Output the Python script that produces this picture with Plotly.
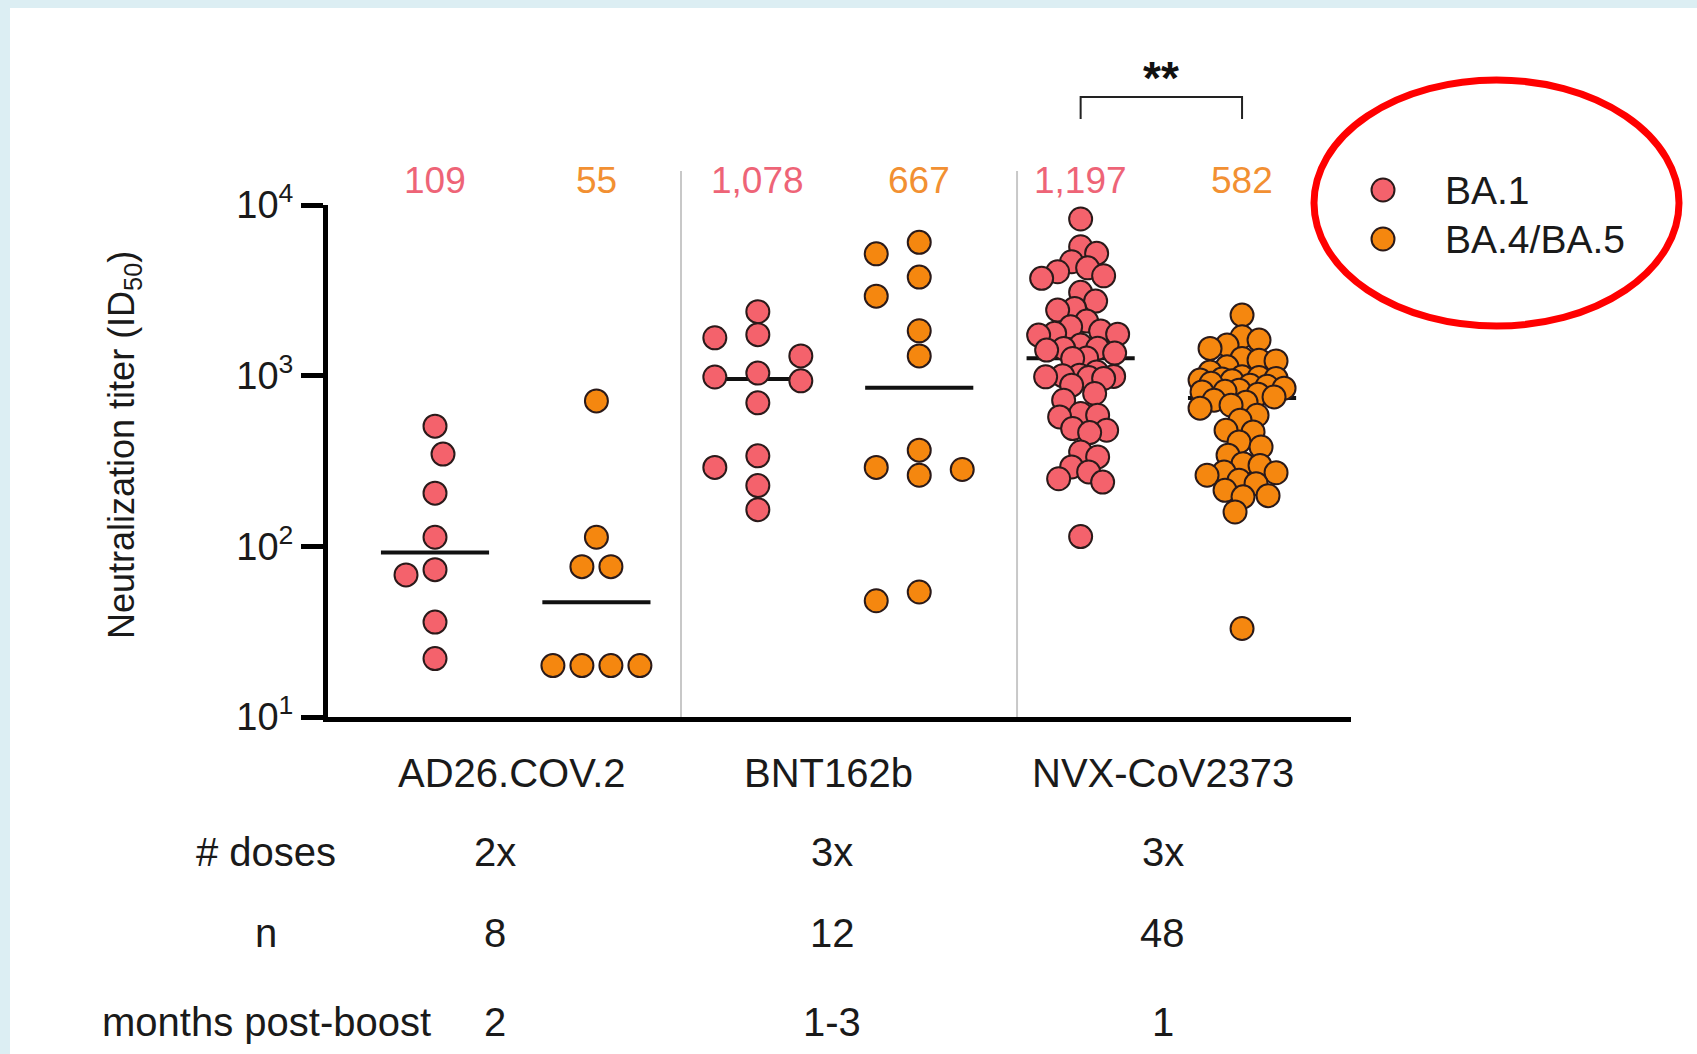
import math
import plotly.graph_objects as go

# ---------------- data ----------------
vaccines = ["AD26.COV.2", "BNT162b", "NVX-CoV2373"]
variants = ["BA.1", "BA.4/BA.5"]
gmt_ba1 = ["109", "1,078", "1,197"]
gmt_ba45 = ["55", "667", "582"]
dose_row = ["2x", "3x", "3x"]
n_row = ["8", "12", "48"]
months_row = ["2", "1-3", "1"]
row_labels = ["# doses", "n", "months post-boost"]
y_tick_vals = [10, 100, 1000, 10000]
y_tick_text = ["10<sup>1</sup>", "10<sup>2</sup>", "10<sup>3</sup>", "10<sup>4</sup>"]

ad26_ba1 = [506, 347, 205, 113, 73, 68, 36, 22]
ad26_ba45 = [711, 113, 76, 76, 20, 20, 20, 20]
bnt_ba1 = [2371, 1738, 1667, 1306, 1035, 982, 933, 693, 339, 290, 227, 164]
bnt_ba45 = [6040, 5176, 3783, 2923, 1832, 1306, 366, 290, 282, 261, 54, 48]
nvx_ba1 = [8279, 5692, 5207, 4650, 4285, 4062, 3848, 3717, 3077, 2736,
           2479, 2423, 2088, 1932, 1825, 1770, 1750, 1729, 1511, 1450,
           1445, 1412, 1356, 1271, 1261, 1052, 1007, 1000, 990, 984,
           975, 963, 880, 786, 718, 600, 586, 573, 490, 479,
           464, 357, 334, 292, 273, 249, 238, 114]
nvx_ba45 = [2265, 1690, 1616, 1511, 1444, 1262, 1233, 1220, 1127, 1052,
            984, 975, 964, 955, 942, 935, 903, 879, 867, 845,
            822, 810, 803, 779, 751, 718, 699, 671, 645, 586,
            548, 479, 468, 409, 382, 342, 305, 298, 273, 270,
            261, 244, 233, 213, 198, 195, 159, 33]
median_ba1 = [92, 957, 1266]
median_ba45 = [47, 850, 741]

# ---------------- layout constants ----------------
W, H = 1697, 1054
ML, MR, MT, MB = 328, 346, 205, 337
PW, PH = W - ML - MR, H - MT - MB
X_RANGE = [-0.663, 5.675]
Y_RANGE = [1, 4]
PX_PER_X = PW / (X_RANGE[1] - X_RANGE[0])
PX_PER_DEC = PH / (Y_RANGE[1] - Y_RANGE[0])

FONT = "Liberation Sans, Arial, Helvetica, sans-serif"
C_BA1 = "#F4626C"
C_BA45 = "#F5870F"
C_TXT_BA1 = "#EE6477"
C_TXT_BA45 = "#F29032"
EDGE = "#2a1a1a"
TXT = "#1a1a1a"
MSIZE = 23


def px2x(px):
    return (px - ML) / PW


def py2y(py):
    return (H - MB - py) / PH


def swarm(values, coll, step, cap, left_first=False):
    """Greedy beeswarm offsets (pixels) computed from the values' pixel heights."""
    ys = [math.log10(v) * PX_PER_DEC for v in values]
    order = sorted(range(len(values)), key=lambda i: -ys[i])
    placed = []
    offs = [0.0] * len(values)
    kmax = int(cap // step)
    for idx in order:
        y = ys[idx]
        near = [(px, py) for px, py in placed if abs(py - y) < coll]
        if left_first:
            first = -1
        else:
            total = sum(px for px, _ in placed)
            first = 1 if total <= 0 else -1
        chosen, best_c, best_d = None, 0, -1.0
        for k in range(0, kmax + 1):
            for c in ([0] if k == 0 else [first * k * step, -first * k * step]):
                d = min([math.hypot(c - px, y - py) for px, py in near], default=1e9)
                if d >= coll:
                    chosen = c
                    break
                if d > best_d + 1e-9:
                    best_d, best_c = d, c
            if chosen is not None:
                break
        if chosen is None:
            chosen = best_c
        offs[idx] = chosen
        placed.append((chosen, y))
    # centre sets of identical values
    groups = {}
    for i, v in enumerate(values):
        groups.setdefault(v, []).append(i)
    for v, ids in groups.items():
        if len(ids) > 1:
            m = sum(offs[i] for i in ids) / len(ids)
            for i in ids:
                offs[i] -= m
    return offs


groups_ba1 = [ad26_ba1, bnt_ba1, nvx_ba1]
groups_ba45 = [ad26_ba45, bnt_ba45, nvx_ba45]
# per vaccine: (collision distance, slot step, max offset, left-first)
swarm_style = [(29, 1, 60, False), (22, 43, 43, True), (17, 1, 42, False)]

fig = go.Figure()

# median lines (under the dots)
lx, ly = [], []
for gi in range(3):
    for vi, med in enumerate([median_ba1[gi], median_ba45[gi]]):
        pos = gi * 2 + vi
        lx += [pos - 0.335, pos + 0.335, None]
        ly += [med, med, None]
fig.add_trace(go.Scatter(x=lx, y=ly, mode="lines", line=dict(color="#111111", width=4),
                         showlegend=False, hoverinfo="skip"))

for vi, (name, color, groups) in enumerate([(variants[0], C_BA1, groups_ba1),
                                            (variants[1], C_BA45, groups_ba45)]):
    xs, ys = [], []
    for gi, vals in enumerate(groups):
        pos = gi * 2 + vi
        coll, step, cap, lf = swarm_style[gi]
        offs = swarm(vals, coll, step, cap, lf)
        xs += [pos + o / PX_PER_X for o in offs]
        ys += list(vals)
    fig.add_trace(go.Scatter(x=xs, y=ys, mode="markers", name=name, showlegend=False,
                             marker=dict(size=MSIZE, color=color,
                                         line=dict(color=EDGE, width=2))))

shapes = []
# light blue frame
shapes.append(dict(type="rect", xref="paper", yref="paper", x0=px2x(0), x1=px2x(W),
                   y0=py2y(8), y1=py2y(0), line=dict(width=0), fillcolor="#DCEEF3", layer="below"))
shapes.append(dict(type="rect", xref="paper", yref="paper", x0=px2x(0), x1=px2x(10),
                   y0=py2y(H), y1=py2y(0), line=dict(width=0), fillcolor="#DCEEF3", layer="below"))
# separators
for sx in [1.524, 3.606]:
    shapes.append(dict(type="line", xref="x", yref="paper", x0=sx, x1=sx,
                       y0=0, y1=py2y(171), line=dict(color="#C8C8C8", width=2)))
# significance bracket NVX BA.1 vs BA.4/BA.5
shapes.append(dict(type="path", xref="x", yref="paper",
                   path=f"M 4,{py2y(119)} L 4,{py2y(97)} L 5,{py2y(97)} L 5,{py2y(119)}",
                   line=dict(color="#222222", width=2)))
# legend markers
for (cy, col) in [(190, C_BA1), (239, C_BA45)]:
    shapes.append(dict(type="circle", xref="paper", yref="paper",
                       xsizemode="pixel", ysizemode="pixel",
                       xanchor=px2x(1383), yanchor=py2y(cy),
                       x0=-11.5, x1=11.5, y0=-11.5, y1=11.5,
                       fillcolor=col, line=dict(color=EDGE, width=2)))
# red ellipse around the legend
shapes.append(dict(type="circle", xref="paper", yref="paper",
                   x0=px2x(1314), x1=px2x(1679), y0=py2y(326), y1=py2y(80),
                   line=dict(color="#FF0000", width=7)))


def note(x, y, text, size, color=TXT, xref="x", xanchor="center", angle=0):
    return dict(x=x, y=y, xref=xref, yref="paper", text=text, showarrow=False,
                xanchor=xanchor, yanchor="middle", textangle=angle,
                font=dict(size=size, color=color, family=FONT))


ann = []
# GMT numbers
for gi in range(3):
    ann.append(note(gi * 2, py2y(180), gmt_ba1[gi], 37, C_TXT_BA1))
    ann.append(note(gi * 2 + 1, py2y(180), gmt_ba45[gi], 37, C_TXT_BA45))
# significance stars
ann.append(note(4.5, py2y(78), "<b>**</b>", 46, "#111111"))
# vaccine labels
cat_x = [0.48, 2.44, 4.51]
for gi in range(3):
    ann.append(note(cat_x[gi], py2y(773), vaccines[gi], 40))
# table
tab_x = [0.37, 2.46, 4.51]
row_y = [852, 933, 1022]
for ri, row in enumerate([dose_row, n_row, months_row]):
    ann.append(note(px2x(266), py2y(row_y[ri]), row_labels[ri], 40, xref="paper"))
    for gi in range(3):
        ann.append(note(tab_x[gi], py2y(row_y[ri]), row[gi], 40))
# y axis title
ann.append(note(px2x(124), py2y(445), "Neutralization titer (ID<sub>50</sub>)", 36,
                xref="paper", angle=-90))
# legend text
for (cy, txt) in [(190, variants[0]), (239, variants[1])]:
    ann.append(note(px2x(1443), py2y(cy), txt, 39, xref="paper", xanchor="left"))

fig.update_layout(
    width=W, height=H,
    margin=dict(l=ML, r=MR, t=MT, b=MB, pad=0),
    paper_bgcolor="white", plot_bgcolor="white",
    showlegend=False,
    shapes=shapes, annotations=ann,
    font=dict(family=FONT, color=TXT),
    xaxis=dict(range=X_RANGE, showline=True, linewidth=5, linecolor="black",
               showticklabels=False, ticks="", showgrid=False, zeroline=False),
    yaxis=dict(type="log", range=Y_RANGE, showline=True, linewidth=5, linecolor="black",
               ticks="outside", ticklen=22, tickwidth=5, tickcolor="black",
               tickvals=y_tick_vals, ticktext=y_tick_text,
               tickfont=dict(size=38, color=TXT, family=FONT),
               showgrid=False, zeroline=False),
)

fig.write_html("out.html")
